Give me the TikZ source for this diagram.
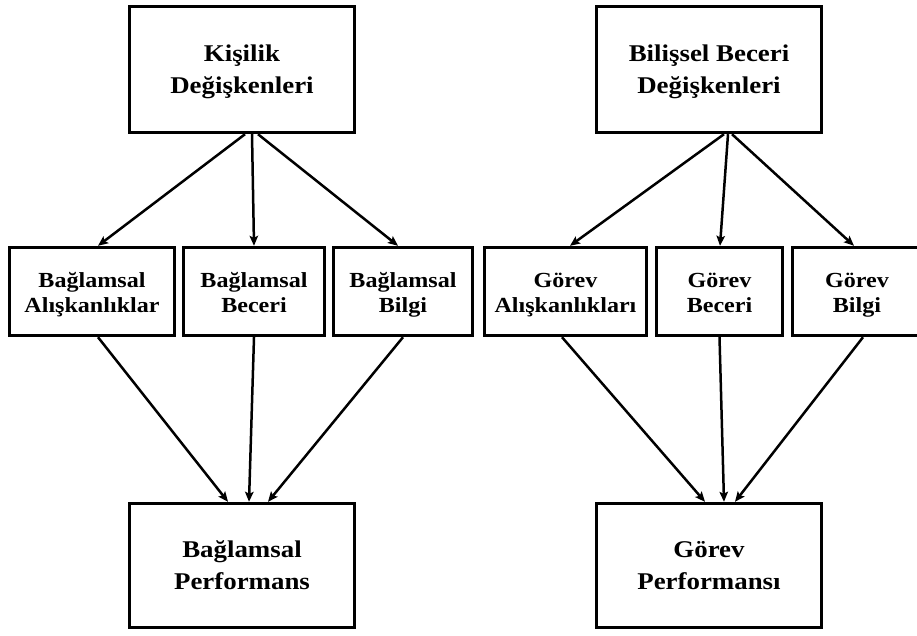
\documentclass[tikz,border=0pt]{standalone}
\usepackage{fontspec}
\setmainfont{Liberation Serif}[FakeStretch=1.12]
\usetikzlibrary{arrows.meta}
% two centred lines of a box label, with a fixed first-line height
\newcommand{\twolines}[2]{\rule{0pt}{16pt}#1\\#2}
\begin{document}
\begin{tikzpicture}[x=1pt,y=-1pt,
  box/.style={draw=black,line width=3.4pt,fill=white,inner sep=0pt,align=center,
    text depth=0pt,font=\fontsize{24}{32}\selectfont\bfseries},
  midbox/.style={box,font=\fontsize{21.5}{25}\selectfont\bfseries},
  arr/.style={line width=2.5pt,-{Stealth[length=10pt,width=8.5pt,inset=2pt]}}]
  \clip (0,0) rectangle (917,636);
  \fill[white] (0,0) rectangle (917,636);

  % top row
  \node[box,minimum width=225pt,minimum height=126pt] (kv) at (242,69.5) {\twolines{Kişilik}{Değişkenleri}};
  \node[box,minimum width=225pt,minimum height=126pt] (bv) at (709,69.5) {\twolines{Bilişsel Beceri}{Değişkenleri}};

  % middle row
  \node[midbox,minimum width=165pt,minimum height=88pt] (ba) at (92,291.5) {\twolines{Bağlamsal}{Alışkanlıklar}};
  \node[midbox,minimum width=141pt,minimum height=88pt] (bb) at (254,291.5) {\twolines{Bağlamsal}{Beceri}};
  \node[midbox,minimum width=139pt,minimum height=88pt] (bg) at (403,291.5) {\twolines{Bağlamsal}{Bilgi}};
  \node[midbox,minimum width=162pt,minimum height=88pt] (ga) at (565.5,291.5) {\twolines{Görev}{Alışkanlıkları}};
  \node[midbox,minimum width=126pt,minimum height=88pt] (gb) at (719.5,291.5) {\twolines{Görev}{Beceri}};
  \node[midbox,minimum width=129pt,minimum height=88pt] (gg) at (857,291.5) {\twolines{Görev}{Bilgi}};

  % bottom row
  \node[box,minimum width=225pt,minimum height=124pt] (bp) at (242,565.5) {\twolines{Bağlamsal}{Performans}};
  \node[box,minimum width=225pt,minimum height=124pt] (gp) at (709,565.5) {\twolines{Görev}{Performansı}};

  % personality -> contextual
  \draw[arr] ([xshift=3pt]kv.south) -- ([xshift=6pt]ba.north);
  \draw[arr] ([xshift=10pt]kv.south) -- (bb.north);
  \draw[arr] ([xshift=16pt]kv.south) -- ([xshift=-5pt]bg.north);
  % cognitive -> task
  \draw[arr] ([xshift=15pt]bv.south) -- ([xshift=4.5pt]ga.north);
  \draw[arr] ([xshift=19pt]bv.south) -- ([xshift=0.5pt]gb.north);
  \draw[arr] ([xshift=23pt]bv.south) -- ([xshift=-3pt]gg.north);
  % contextual -> contextual performance
  \draw[arr] ([xshift=6pt]ba.south) -- ([xshift=-14pt]bp.north);
  \draw[arr] (bb.south) -- ([xshift=7pt]bp.north);
  \draw[arr] (bg.south) -- ([xshift=26pt]bp.north);
  % task -> task performance
  \draw[arr] ([xshift=-3.5pt]ga.south) -- ([xshift=-4pt]gp.north);
  \draw[arr] (gb.south) -- ([xshift=15pt]gp.north);
  \draw[arr] ([xshift=6pt]gg.south) -- ([xshift=26pt]gp.north);
\end{tikzpicture}
\end{document}
